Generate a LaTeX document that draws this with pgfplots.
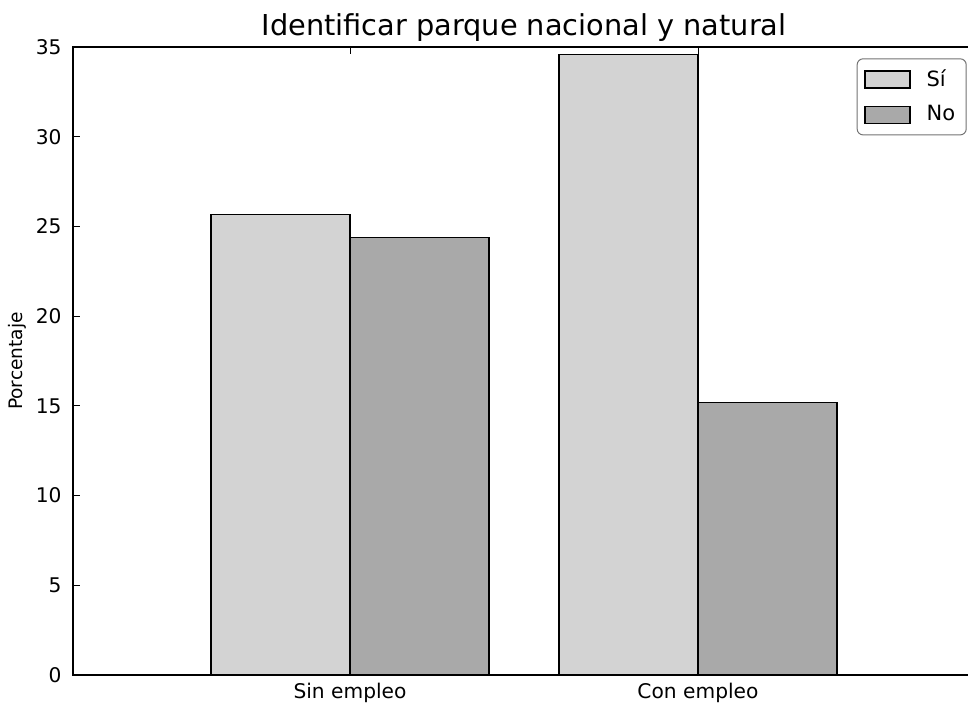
\documentclass[border=0pt]{standalone}
\usepackage{fontspec}
\setmainfont{DejaVu Sans}
\usepackage{pgfplots}
\pgfplotsset{compat=1.18}
\definecolor{lightbar}{HTML}{D3D3D3}
\definecolor{darkbar}{HTML}{A9A9A9}
\pgfplotsset{mylegend/.style={legend image code/.code={\draw[#1, sharp corners] (0pt,-4.25pt) rectangle (22.5pt,4.25pt);}}}
\begin{document}
\begin{tikzpicture}
\clip (-36.5pt,-14pt) rectangle (447.5pt,337.5pt);
\begin{axis}[
  at={(0,0)}, anchor=south west,
  scale only axis, width=451pt, height=314pt,
  xmin=-0.796, xmax=1.796, ymin=0, ymax=35,
  ytick={0,5,...,35},
  xtick={0,1}, xticklabels={Sin empleo, Con empleo},
  xtick pos=both, ytick pos=both,
  tick align=inside, major tick length=3.5pt,
  tick style={black, line width=0.5pt},
  axis line style={line width=0.9pt},
  /pgf/number format/assume math mode=true,
  ticklabel style={font=\fontsize{10.1}{12}\selectfont},
  yticklabel style={anchor=east, inner sep=0pt, xshift=-5.5pt},
  xticklabel style={anchor=north, inner sep=0pt, yshift=-4pt},
  title={Identificar parque nacional y natural},
  title style={font=\fontsize{14.4}{17}\selectfont, at={(axis description cs:0.5,1)}, anchor=base, yshift=-0.5pt, inner sep=0pt},
  ylabel={Porcentaje},
  ylabel style={font=\fontsize{9.3}{11}\selectfont, at={(axis description cs:-0.062,0.5)}, anchor=center, rotate=0},
  legend style={at={(0.9908,0.982)}, anchor=north east, draw=black!55, line width=0.5pt, rounded corners=3pt,
    font=\fontsize{10.5}{12}\selectfont, inner xsep=3.5pt, inner ysep=3.5pt, row sep=4pt,
    /tikz/every odd column/.append style={column sep=6pt},
    /tikz/every even column/.append style={column sep=0pt}},
  legend cell align=left,
]
\addplot[ybar, bar width=0.4, bar shift=0pt, fill=lightbar, draw=black, line width=0.75pt, mylegend] coordinates {(-0.2,25.66) (0.8,34.58)};
\addlegendentry{Sí}
\addplot[ybar, bar width=0.4, bar shift=0pt, fill=darkbar, draw=black, line width=0.75pt, mylegend] coordinates {(0.2,24.38) (1.2,15.2)};
\addlegendentry{No}
\end{axis}
\end{tikzpicture}
\end{document}
